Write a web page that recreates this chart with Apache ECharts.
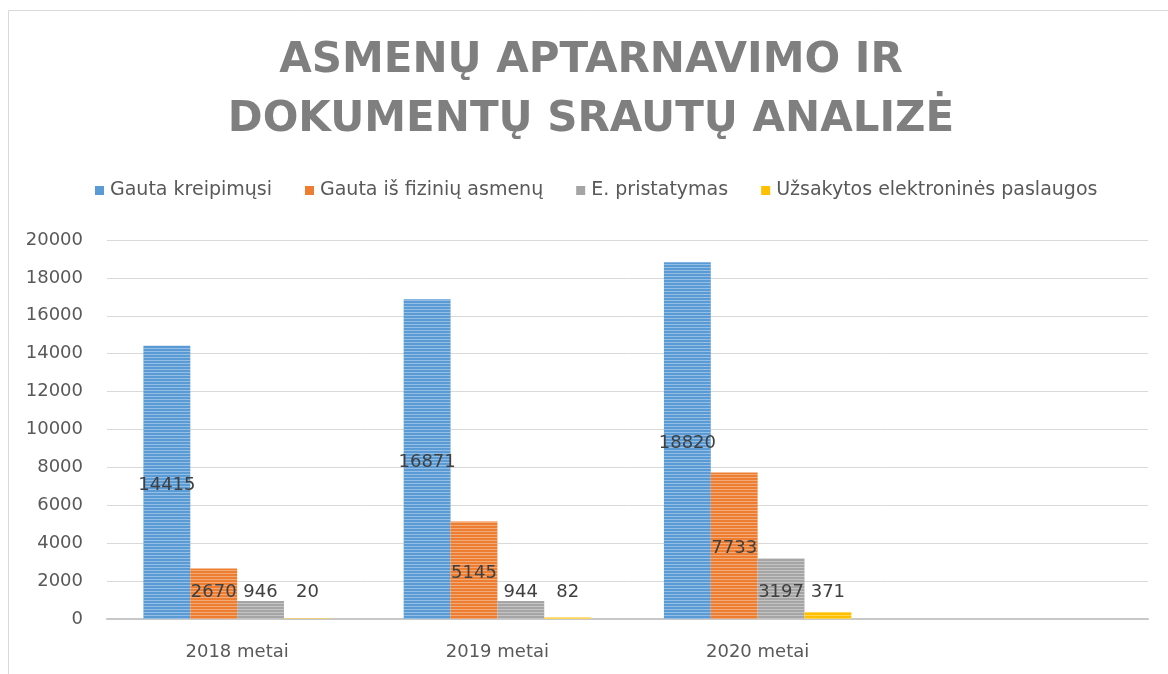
<!DOCTYPE html>
<html>
<head>
    <meta charset="UTF-8">
    <title>Asmenų aptarnavimo ir dokumentų srautų analizė</title>
    <script type="text/javascript" src="https://cdn.jsdelivr.net/npm/echarts@6/dist/echarts.min.js"></script>
    <style>
        html, body {
            margin: 0;
            padding: 0;
            background-color: #fff;
        }

        #chart {
            width: 1168px;
            height: 674px;
        }
    </style>
</head>
<body>
<div id="chart"></div>

<script>
    // duomenys
    var metai = ['2018 metai', '2019 metai', '2020 metai', ''];
    var gautaKreipimusi = [14415, 16871, 18820, null];
    var gautaIsFiziniu = [2670, 5145, 7733, null];
    var ePristatymas = [946, 944, 3197, null];
    var uzsakytosPaslaugos = [20, 82, 371, null];
    var yTicks = [0, 2000, 4000, 6000, 8000, 10000, 12000, 14000, 16000, 18000, 20000];

    var textFont = 'DejaVu Sans';

    // small bars get the label just above the axis, like the original
    function withLabels(values) {
        return values.map(function (v) {
            if (v === null) return v;
            if (v < 4000) {
                return {value: v, label: {position: 'insideBottom', distance: 18}};
            }
            return {value: v, label: {position: 'inside', offset: [0, 3]}};
        });
    }

    function makeSeries(name, values, color) {
        return {
            name: name,
            type: 'bar',
            barGap: '0%',
            barCategoryGap: '28%',
            data: withLabels(values),
            itemStyle: {
                color: color,
                decal: {
                    symbol: 'rect',
                    symbolSize: 1,
                    dashArrayX: [1, 0],
                    dashArrayY: [1, 2],
                    color: 'rgba(255,255,255,0.35)'
                }
            },
            label: {
                show: true,
                color: '#404040',
                fontFamily: textFont,
                fontSize: 18
            },
            z: 2
        };
    }

    var chart = echarts.init(document.getElementById('chart'), null, {renderer: 'canvas'});

    var option = {
        animation: false,
        backgroundColor: '#fff',
        title: {
            text: 'ASMENŲ APTARNAVIMO IR\nDOKUMENTŲ SRAUTŲ ANALIZĖ',
            left: 591,
            textAlign: 'center',
            top: 32,
            padding: 0,
            textStyle: {
                fontFamily: textFont,
                fontWeight: 'bold',
                fontSize: 42,
                lineHeight: 59,
                color: '#7f7f7f'
            }
        },
        legend: {
            left: 90,
            top: 176,
            itemWidth: 9,
            itemHeight: 9,
            itemGap: 33,
            icon: 'rect',
            itemStyle: {decal: 'none'},
            textStyle: {
                fontFamily: textFont,
                fontSize: 19,
                color: '#595959',
                padding: [0, 0, 0, 1]
            },
            data: ['Gauta kreipimųsi', 'Gauta iš fizinių asmenų', 'E. pristatymas', 'Užsakytos elektroninės paslaugos']
        },
        grid: {
            left: 107,
            right: 20,
            top: 240,
            bottom: 55
        },
        xAxis: {
            type: 'category',
            data: metai,
            axisTick: {show: false},
            axisLine: {lineStyle: {color: '#c8c8c8', width: 2}},
            axisLabel: {
                margin: 24,
                color: '#595959',
                fontFamily: textFont,
                fontSize: 18
            }
        },
        yAxis: {
            type: 'value',
            min: yTicks[0],
            max: yTicks[yTicks.length - 1],
            interval: yTicks[1] - yTicks[0],
            axisLine: {show: false},
            axisTick: {show: false},
            splitLine: {lineStyle: {color: '#d9d9d9', width: 1}},
            axisLabel: {
                margin: 24,
                color: '#595959',
                fontFamily: textFont,
                fontSize: 18,
                formatter: function (v) { return String(v); }
            }
        },
        graphic: [{
            type: 'rect',
            shape: {x: 8.5, y: 10.5, width: 1180, height: 700},
            style: {fill: 'none', stroke: '#d9d9d9', lineWidth: 1},
            silent: true
        }],
        series: [
            makeSeries('Gauta kreipimųsi', gautaKreipimusi, '#5b9bd5'),
            makeSeries('Gauta iš fizinių asmenų', gautaIsFiziniu, '#ed7d31'),
            makeSeries('E. pristatymas', ePristatymas, '#a5a5a5'),
            makeSeries('Užsakytos elektroninės paslaugos', uzsakytosPaslaugos, '#ffc000')
        ]
    };

    chart.setOption(option);
</script>
</body>
</html>
